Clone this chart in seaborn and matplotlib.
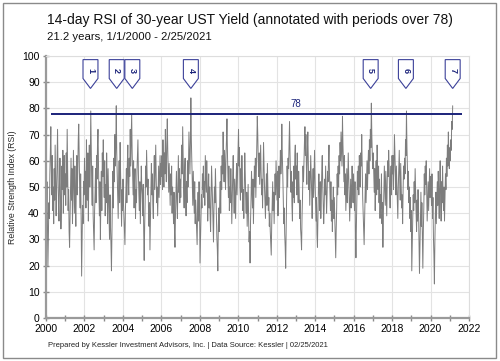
import numpy as np
import pandas as pd
import matplotlib
matplotlib.use("Agg")
import matplotlib.pyplot as plt
import matplotlib.dates as mdates
from matplotlib.patches import Polygon, Rectangle
import seaborn as sns

# ---------------- data ----------------
y2000 = [46, 41, 52, 35, 20, 31, 44, 38, 55, 63, 73, 58, 47, 62, 41, 50, 36, 57, 45, 66, 52, 39, 48, 60, 72, 55, 43, 37, 51, 61, 46, 34, 42, 58, 49, 64, 40, 53, 62, 47]
y2001 = [55, 43, 63, 50, 72, 58, 41, 49, 33, 27, 39, 52, 61, 45, 57, 36, 48, 64, 53, 40, 58, 44, 35, 51, 62, 47, 56, 68, 74, 60, 49, 42, 55, 38, 16, 29, 43, 36, 52, 47]
y2002 = [61, 48, 56, 42, 68, 52, 45, 63, 37, 55, 66, 50, 59, 79, 64, 51, 43, 58, 39, 33, 26, 41, 48, 57, 44, 62, 53, 66, 72, 58, 47, 39, 52, 30, 45, 56, 41, 63, 54, 68]
y2003 = [55, 46, 60, 39, 51, 44, 63, 52, 36, 57, 48, 41, 30, 47, 35, 28, 18, 33, 46, 56, 42, 61, 52, 70, 58, 66, 81, 63, 55, 47, 38, 52, 60, 44, 67, 55, 46, 35, 49, 41]
y2004 = [53, 44, 39, 35, 28, 41, 48, 57, 44, 59, 66, 52, 47, 61, 54, 72, 58, 67, 78, 63, 55, 47, 60, 42, 52, 57, 38, 49, 44, 56, 62, 68, 55, 47, 41, 52, 36, 46, 58, 50]
y2005 = [47, 39, 51, 33, 22, 35, 44, 58, 50, 64, 55, 47, 53, 41, 35, 44, 26, 38, 49, 59, 47, 55, 43, 38, 52, 62, 49, 57, 66, 53, 44, 50, 39, 48, 58, 46, 55, 62, 51, 59]
y2006 = [54, 62, 49, 68, 57, 50, 63, 55, 72, 60, 52, 66, 76, 64, 56, 48, 59, 51, 43, 55, 47, 58, 40, 50, 44, 36, 48, 33, 27, 39, 47, 56, 45, 38, 51, 62, 48, 57, 44, 53]
y2007 = [46, 58, 66, 55, 73, 60, 49, 42, 56, 61, 48, 39, 52, 44, 60, 50, 57, 71, 62, 55, 66, 84, 68, 59, 49, 43, 56, 47, 40, 52, 36, 45, 39, 33, 28, 41, 48, 37, 52, 44]
y2008 = [21, 30, 39, 47, 42, 55, 49, 58, 46, 52, 43, 62, 55, 48, 60, 51, 37, 45, 55, 42, 50, 39, 33, 46, 58, 52, 45, 37, 29, 42, 50, 44, 57, 48, 38, 31, 26, 18, 35, 42]
y2009 = [33, 45, 52, 40, 58, 49, 62, 55, 71, 60, 52, 64, 57, 49, 62, 68, 76, 63, 54, 46, 58, 41, 50, 44, 57, 48, 36, 46, 55, 62, 49, 40, 53, 45, 38, 52, 59, 47, 55, 63]
y2010 = [72, 58, 65, 50, 45, 57, 48, 62, 53, 41, 49, 38, 52, 63, 55, 45, 40, 48, 35, 43, 51, 38, 29, 33, 21, 37, 45, 56, 49, 42, 53, 36, 47, 58, 50, 61, 46, 55, 66, 77]
y2011 = [70, 60, 54, 63, 51, 58, 66, 55, 47, 53, 42, 56, 67, 58, 50, 44, 38, 49, 55, 43, 59, 50, 41, 46, 35, 40, 33, 28, 24, 36, 44, 52, 41, 48, 36, 45, 55, 47, 60, 52]
y2012 = [45, 56, 39, 50, 58, 46, 54, 64, 55, 60, 74, 62, 55, 46, 36, 42, 32, 27, 19, 34, 45, 58, 50, 61, 57, 66, 75, 63, 54, 48, 56, 43, 37, 52, 46, 58, 44, 62, 66, 53]
y2013 = [58, 47, 63, 52, 44, 56, 49, 38, 45, 34, 31, 26, 39, 46, 58, 52, 60, 67, 73, 62, 70, 58, 51, 64, 71, 59, 49, 56, 43, 52, 62, 55, 48, 38, 50, 57, 46, 55, 64, 52]
y2014 = [44, 37, 46, 32, 27, 38, 49, 55, 47, 41, 52, 38, 46, 56, 62, 51, 44, 36, 42, 53, 47, 58, 49, 40, 47, 56, 52, 60, 66, 55, 48, 41, 52, 37, 45, 33, 43, 50, 38, 46]
y2015 = [38, 31, 23, 34, 42, 55, 47, 58, 50, 62, 55, 67, 60, 71, 64, 58, 77, 66, 59, 52, 62, 47, 55, 41, 50, 57, 44, 52, 63, 54, 46, 37, 45, 53, 42, 48, 58, 50, 44, 55]
y2016 = [48, 41, 52, 33, 23, 36, 45, 56, 49, 58, 47, 62, 55, 50, 63, 58, 70, 57, 46, 40, 35, 28, 38, 47, 55, 44, 53, 60, 49, 58, 64, 55, 68, 60, 72, 65, 82, 70, 62, 57]
y2017 = [63, 55, 48, 57, 41, 52, 60, 47, 66, 55, 49, 58, 44, 53, 38, 47, 42, 55, 36, 44, 27, 40, 48, 58, 50, 43, 56, 47, 39, 52, 60, 54, 64, 57, 48, 42, 53, 58, 47, 62]
y2018 = [55, 62, 49, 58, 70, 63, 55, 47, 58, 51, 43, 38, 50, 57, 64, 53, 45, 59, 50, 42, 47, 36, 49, 58, 53, 61, 55, 68, 62, 79, 65, 57, 49, 56, 44, 50, 38, 46, 33, 41]
y2019 = [18, 29, 38, 47, 41, 52, 44, 57, 48, 40, 33, 45, 37, 49, 42, 30, 17, 28, 39, 48, 35, 44, 31, 19, 33, 42, 55, 47, 58, 51, 60, 48, 37, 45, 52, 41, 49, 57, 46, 54]
y2020 = [50, 43, 55, 38, 46, 31, 24, 13, 29, 40, 48, 36, 45, 52, 43, 56, 48, 38, 51, 60, 45, 37, 52, 44, 58, 47, 41, 50, 37, 46, 55, 49, 61, 54, 66, 58, 71, 62, 57, 65]
y2021 = [60, 68, 64, 75, 72, 81]

threshold = 78
flag_labels = ["1", "2", "3", "4", "5", "6", "7"]
flag_dates = ["2002-04-25", "2003-09-05", "2004-06-28", "2007-07-15",
              "2016-11-20", "2018-09-20", "2021-02-25"]

title = "14-day RSI of 30-year UST Yield (annotated with periods over 78)"
subtitle = "21.2 years, 1/1/2000 - 2/25/2021"
footer = "Prepared by Kessler Investment Advisors, Inc. | Data Source: Kessler | 02/25/2021"
ylabel = "Relative Strength Index (RSI)"

rsi = (y2000 + y2001 + y2002 + y2003 + y2004 + y2005 + y2006 + y2007 + y2008 +
       y2009 + y2010 + y2011 + y2012 + y2013 + y2014 + y2015 + y2016 + y2017 +
       y2018 + y2019 + y2020 + y2021)
dates = pd.date_range("2000-01-01", "2021-02-25", periods=len(rsi))
df = pd.DataFrame({"date": dates, "rsi": rsi})

# ---------------- style ----------------
sns.set_theme(style="white")
plt.rcParams["font.family"] = ["Liberation Sans", "DejaVu Sans"]

NAVY = "#1b237a"
FLAG = "#3c4199"

fig = plt.figure(figsize=(5.0, 3.61), dpi=100)
fig.patch.set_facecolor("white")
# outer frame
fig.add_artist(Rectangle((0.006, 0.008), 0.986, 0.985, transform=fig.transFigure,
                         fill=False, edgecolor="#8a8a8a", linewidth=1.0))

ax = fig.add_axes([0.092, 0.119, 0.846, 0.726])

sns.lineplot(data=df, x="date", y="rsi", ax=ax, color="#7d7d7d",
             linewidth=0.7, estimator=None)

ax.set_xlim(pd.Timestamp("2000-01-01"), pd.Timestamp("2022-01-01"))
ax.set_ylim(0, 100)
ax.set_yticks(np.arange(0, 101, 10))
ax.xaxis.set_major_locator(mdates.YearLocator(2))
ax.xaxis.set_minor_locator(mdates.YearLocator(1))
ax.xaxis.set_major_formatter(mdates.DateFormatter("%Y"))

ax.grid(True, which="major", color="#e3e3e3", linewidth=0.8)
ax.set_axisbelow(True)
for s in ["top", "right"]:
    ax.spines[s].set_color("#dddddd")
    ax.spines[s].set_linewidth(0.8)
for s in ["left", "bottom"]:
    ax.spines[s].set_color("#9a9a9a")
    ax.spines[s].set_linewidth(1.6)

ax.tick_params(axis="both", which="both", direction="inout", color="#8a8a8a",
               labelsize=7.5, labelcolor="black", pad=2)
ax.tick_params(axis="x", which="major", length=5, width=1)
ax.tick_params(axis="x", which="minor", length=5, width=1)
ax.tick_params(axis="y", which="major", length=5, width=1)
ax.tick_params(left=True, bottom=True, which="both")

ax.set_xlabel("")
ax.set_ylabel(ylabel, fontsize=6.3, labelpad=4)

# threshold line
ax.hlines(threshold, pd.Timestamp("2000-04-01"), pd.Timestamp("2021-08-15"),
          color=NAVY, linewidth=1.4, zorder=5)
ax.text(pd.Timestamp("2013-01-01"), threshold + 1.6, str(threshold), color=NAVY,
        fontsize=7, ha="center", va="bottom")

# flags
half_w = pd.Timedelta(days=142)
for lab, d in zip(flag_labels, flag_dates):
    c = mdates.date2num(pd.Timestamp(d))
    hw = half_w.days
    pts = [(c - hw, 98.6), (c + hw, 98.6), (c + hw, 91.4), (c, 87.6), (c - hw, 91.4)]
    ax.add_patch(Polygon(pts, closed=True, facecolor="white", edgecolor=FLAG,
                         linewidth=0.8, zorder=6))
    ax.text(c, 94.6, lab, rotation=-90, color=NAVY, fontsize=6.5, fontweight="bold",
            ha="center", va="center", zorder=7)

# titles
fig.text(0.094, 0.945, title, fontsize=10.0, ha="left", va="center", color="#111111")
fig.text(0.094, 0.897, subtitle, fontsize=8.2, ha="left", va="center", color="#111111")
fig.text(0.096, 0.042, footer, fontsize=5.5, ha="left", va="center", color="#222222")

fig.savefig("out.png", dpi=100)
